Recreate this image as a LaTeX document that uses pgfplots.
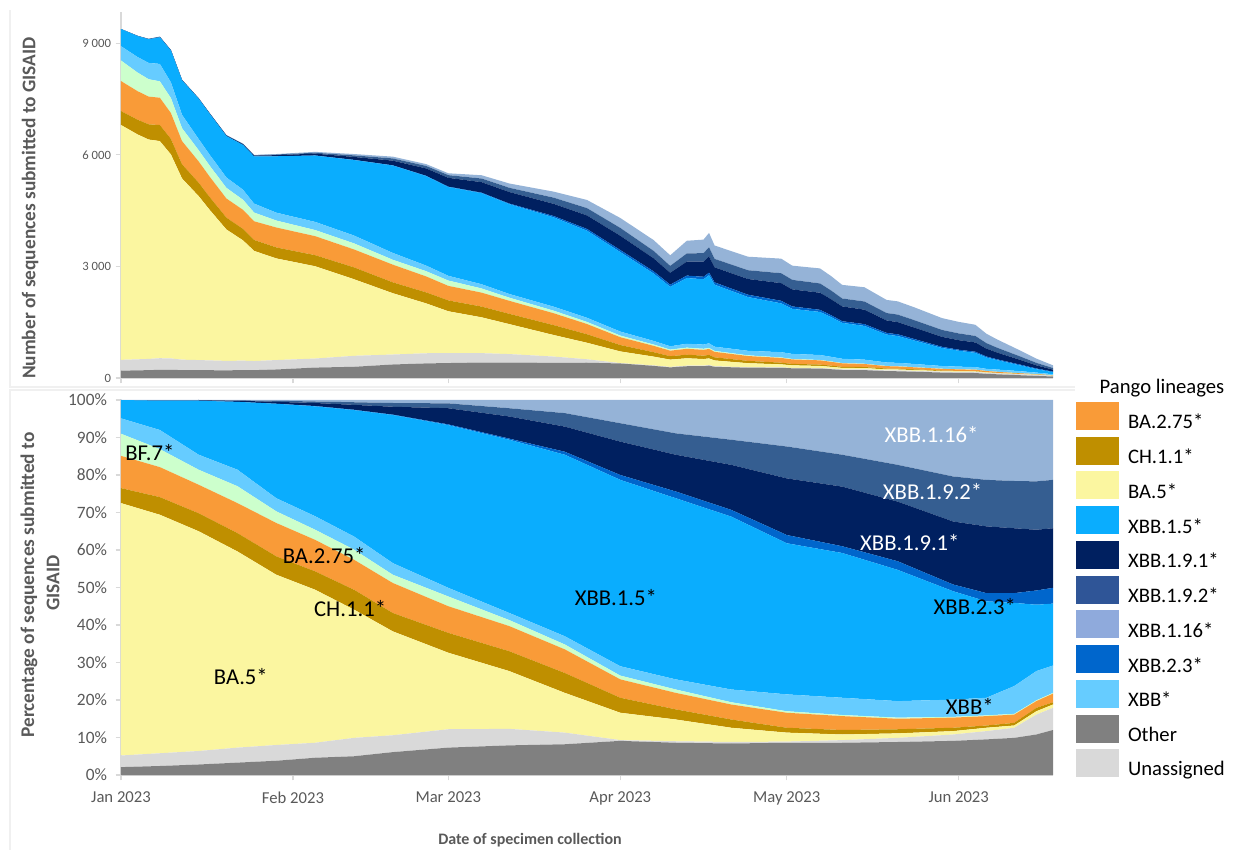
\documentclass[border=0pt]{standalone}
\usepackage{fontspec}
\setmainfont{Carlito}
\usepackage{pgfplots}
\usepackage{pgfplotstable}
\pgfplotsset{compat=1.18}

\definecolor{cOther}{HTML}{808080}
\definecolor{cUnas}{HTML}{D9D9D9}
\definecolor{cBAfive}{HTML}{FBF6A0}
\definecolor{cCH}{HTML}{BF8F00}
\definecolor{cBAtwo}{HTML}{F99B38}
\definecolor{cBF}{HTML}{CCFFCC}
\definecolor{cXBB}{HTML}{66CCFF}
\definecolor{cXfive}{HTML}{0AADFE}
\definecolor{cXtwothree}{HTML}{0066CC}
\definecolor{cXnineone}{HTML}{002060}
\definecolor{cXninetwo}{HTML}{355E91}
\definecolor{cXsixteen}{HTML}{95B3D7}
\definecolor{cLegNineTwo}{HTML}{2F5597}
\definecolor{cLegSixteen}{HTML}{8FAADC}
\definecolor{cAxis}{HTML}{D9D9D9}
\definecolor{cTick}{HTML}{595959}
\definecolor{cFrame}{HTML}{F0F0F0}

% day of 2023 (0 = 1 Jan); widths of each lineage in per cent
\pgfplotstableread{
d O U B5 CH B275 BF X X15 X23 X191 X192 X116
0 2.1 3.1 67.3 4.0 8.6 5.9 4.1 4.9 0 0 0 0
7 2.4 3.4 63.6 4.7 8.0 4.8 5.1 7.8 0 0.1 0.05 0.05
14 2.8 3.6 58.6 4.8 7.6 4.0 4.0 14.4 0 0.1 0.1 0
21 3.3 4.0 52.3 4.9 8.0 4.5 4.4 18.1 0 0.3 0.1 0.1
28 3.8 4.2 45.4 4.9 8.9 3.1 3.5 25.2 0 0.5 0.3 0.2
35 4.6 4.0 40.8 4.9 8.4 2.7 3.6 29.3 0.1 0.8 0.4 0.4
42 5.0 4.9 34.2 5.3 8.0 2.7 3.5 33.7 0.1 1.3 0.7 0.6
49 6.1 4.5 27.7 4.9 8.0 2.2 3.1 39.5 0.1 2.1 1.0 0.8
59 7.3 4.9 20.4 5.3 7.1 2.6 2.3 43.4 0.2 4.3 1.3 0.9
70 7.9 4.4 15.4 5.3 6.7 1.6 1.9 46.2 0.3 5.9 2.2 2.2
80 8.2 3.1 10.6 5.3 6.3 1.3 2.2 48.4 0.8 6.7 3.6 3.5
90 9.1 0.2 7.3 4.0 4.9 1.0 2.5 49.7 1.3 8.9 4.9 6.2
100 8.6 0.4 5.8 2.7 4.4 0.9 2.7 48.3 1.8 9.8 5.7 8.9
110 8.4 0.4 3.8 2.2 4.0 0.6 3.4 46.1 1.8 12.0 6.7 10.6
120 8.6 0.3 2.4 1.3 4.0 0.4 4.5 40.3 2.2 15.1 8.5 12.4
130 8.6 0.7 1.5 1.2 3.7 0.3 4.6 38.6 1.8 15.9 8.5 14.6
140 8.8 1.1 1.2 1.1 2.8 0.3 4.4 35.0 2.3 15.9 9.8 17.3
150 9.1 1.7 0.9 0.9 2.7 0.2 4.6 28.9 1.8 16.8 12.0 20.4
156 9.5 2.2 0.9 0.6 2.5 0.2 4.7 25.7 2.2 17.8 12.4 21.3
161 9.9 2.7 0.6 0.7 2.2 0.2 7.4 22.2 2.6 17.3 12.6 21.6
165 10.8 5.3 0.9 0.9 1.8 0.2 7.8 17.7 3.8 16.2 12.9 21.7
168 12.0 5.9 0.9 0.6 2.3 0.2 7.3 16.5 4.2 15.9 12.9 21.3
}\pct

% number of sequences per lineage
\pgfplotstableread{
d O U B5 CH B275 BF X X15 X23 X191 X192 X116
0 197 291 6313 375 807 553 385 460 0 0 0 0
3 205 297 6045 396 767 500 417 565 0 4 2 2
5 211 302 5897 410 745 466 439 636 0 6 4 4
7 220 312 5838 431 734 441 468 716 0 9 5 5
9 221 305 5483 417 696 403 422 855 0 9 5 4
11 211 282 4871 382 623 348 358 928 0 8 6 2
14 211 271 4407 361 572 301 301 1083 0 8 8 0
16 209 264 4044 344 549 295 293 1101 0 11 7 2
19 206 254 3533 318 515 285 280 1113 0 16 7 5
22 212 254 3233 309 512 271 269 1204 0 21 8 7
24 211 245 2960 294 503 234 241 1268 0 23 11 8
28 229 253 2733 295 536 187 211 1517 0 30 18 12
35 280 243 2481 298 511 164 219 1781 6 49 24 24
42 301 295 2059 319 482 163 211 2029 6 78 42 36
49 363 268 1648 292 476 131 184 2350 6 125 60 48
55 392 273 1341 296 429 140 151 2406 9 197 68 49
59 402 270 1122 292 391 143 127 2387 11 237 72 50
65 416 252 963 289 375 112 113 2449 14 282 98 88
70 413 230 805 277 350 84 99 2416 16 309 115 115
78 408 168 579 266 320 68 107 2403 35 328 166 162
84 410 93 444 229 275 56 111 2341 48 363 197 219
90 391 9 314 172 211 43 108 2137 56 383 211 267
96 326 12 237 119 171 35 97 1813 59 350 200 290
99 285 13 196 93 147 30 88 1599 58 320 185 285
102 316 15 199 96 159 31 105 1766 66 378 218 341
105 316 15 179 91 156 28 113 1756 67 405 231 363
106 331 16 179 94 162 28 122 1832 70 434 246 387
107 301 14 157 84 147 25 114 1665 64 404 228 359
113 276 12 110 63 130 18 122 1446 63 422 236 363
119 275 10 82 45 128 13 141 1312 69 475 267 392
121 260 10 70 39 120 12 136 1212 65 458 257 381
126 253 16 55 37 113 10 134 1157 58 459 250 404
128 236 17 46 33 103 9 125 1067 52 431 233 388
130 215 18 38 30 93 8 115 965 45 398 213 365
134 212 21 34 28 81 7 110 907 49 388 220 383
138 184 21 26 24 63 6 93 750 46 334 200 352
140 181 23 25 23 58 6 91 721 47 328 202 356
143 169 24 21 20 53 5 85 630 41 307 199 346
148 146 25 15 15 44 4 73 485 31 268 186 318
151 138 27 14 13 40 3 70 428 28 256 182 310
154 134 29 13 10 37 3 67 383 30 250 175 300
156 113 26 11 7 30 2 56 306 26 212 148 253
158 99 25 8 7 25 2 60 250 24 181 129 221
162 75 25 5 6 16 1 56 157 22 127 94 161
165 56 28 5 5 9 1 41 92 20 84 67 113
168 41 20 3 2 8 1 25 56 14 54 44 72
}\cnt

\pgfplotsset{
  panel/.style={
    scale only axis, width=699pt,
    xmin=0, xmax=168, ymin=0,
    stack plots=y,
    axis x line*=bottom, axis y line*=left,
    axis line style={draw=cAxis, line width=0.8pt, -},
    xtick={0,31,59,90,120,151},
    tick style={draw=cAxis, line width=0.8pt},
    major tick length=4pt, tick align=outside,
    ticklabel style={text=cTick},
  },
  band/.style={fill=#1, draw=none},
  swatch/.style={fill=#1, draw=none},
}
\tikzset{lab/.style={font=\fontsize{17}{20}\selectfont}}

\begin{document}
\begin{tikzpicture}
\path[use as bounding box] (-90.75pt,-56.25pt) rectangle (836.25pt,581.25pt);
\draw[cFrame, line width=0.8pt] (-83.25pt,-56.25pt) -- (-83.25pt,288.75pt) -- (715.5pt,288.75pt);
\draw[cFrame, line width=0.8pt] (-83.25pt,573.75pt) -- (-83.25pt,291pt) -- (715.5pt,291pt);

% ---------- counts ----------
\begin{axis}[panel,
  at={(0pt,297.75pt)},
  height=274.5pt, ymax=9840,
  ytick={0,3000,6000,9000},
  yticklabels={0,3 000,6 000,9 000},
  yticklabel style={font=\fontsize{9.5}{11}\selectfont},
  xticklabels={},
]
\addplot[band=cOther] table[x=d,y=O]{\cnt} \closedcycle;
\addplot[band=cUnas] table[x=d,y=U]{\cnt} \closedcycle;
\addplot[band=cBAfive] table[x=d,y=B5]{\cnt} \closedcycle;
\addplot[band=cCH] table[x=d,y=CH]{\cnt} \closedcycle;
\addplot[band=cBAtwo] table[x=d,y=B275]{\cnt} \closedcycle;
\addplot[band=cBF] table[x=d,y=BF]{\cnt} \closedcycle;
\addplot[band=cXBB] table[x=d,y=X]{\cnt} \closedcycle;
\addplot[band=cXfive] table[x=d,y=X15]{\cnt} \closedcycle;
\addplot[band=cXtwothree] table[x=d,y=X23]{\cnt} \closedcycle;
\addplot[band=cXnineone] table[x=d,y=X191]{\cnt} \closedcycle;
\addplot[band=cXninetwo] table[x=d,y=X192]{\cnt} \closedcycle;
\addplot[band=cXsixteen] table[x=d,y=X116]{\cnt} \closedcycle;
\end{axis}

% ---------- shares ----------
\begin{axis}[panel,
  at={(0pt,0pt)},
  height=281.25pt, ymax=100,
  ytick={0,10,...,100},
  yticklabels={0\%,10\%,20\%,30\%,40\%,50\%,60\%,70\%,80\%,90\%,100\%},
  yticklabel style={font=\fontsize{13}{15}\selectfont, xshift=-3pt},
  xticklabels={Jan 2023,Feb 2023,Mar 2023,Apr 2023,May 2023,Jun 2023},
  xticklabel style={font=\fontsize{12.5}{14}\selectfont, yshift=-5pt},
]
\addplot[band=cOther] table[x=d,y=O]{\pct} \closedcycle;
\addplot[band=cUnas] table[x=d,y=U]{\pct} \closedcycle;
\addplot[band=cBAfive] table[x=d,y=B5]{\pct} \closedcycle;
\addplot[band=cCH] table[x=d,y=CH]{\pct} \closedcycle;
\addplot[band=cBAtwo] table[x=d,y=B275]{\pct} \closedcycle;
\addplot[band=cBF] table[x=d,y=BF]{\pct} \closedcycle;
\addplot[band=cXBB] table[x=d,y=X]{\pct} \closedcycle;
\addplot[band=cXfive] table[x=d,y=X15]{\pct} \closedcycle;
\addplot[band=cXtwothree] table[x=d,y=X23]{\pct} \closedcycle;
\addplot[band=cXnineone] table[x=d,y=X191]{\pct} \closedcycle;
\addplot[band=cXninetwo] table[x=d,y=X192]{\pct} \closedcycle;
\addplot[band=cXsixteen] table[x=d,y=X116]{\pct} \closedcycle;
\end{axis}

% ---------- labels and legend (same frame as the shares) ----------
\begin{axis}[
  at={(0pt,0pt)}, scale only axis, width=699pt, height=281.25pt,
  xmin=0, xmax=168, ymin=0, ymax=100, hide axis,
  legend style={at={(1.0247,0.995)}, anchor=north west, draw=none, fill=none,
    inner sep=0pt, outer sep=0pt, row sep=2.3pt,
    font=\fontsize{15.5}{18}\selectfont, cells={anchor=west},
    /tikz/every odd column/.append style={column sep=5pt}},
  legend image code/.code={\path[#1] (0pt,-5.5pt) rectangle (32pt,15.5pt);},
]
\addlegendimage{swatch=cBAtwo}\addlegendentry{BA.2.75*}
\addlegendimage{swatch=cCH}\addlegendentry{CH.1.1*}
\addlegendimage{swatch=cBAfive}\addlegendentry{BA.5*}
\addlegendimage{swatch=cXfive}\addlegendentry{XBB.1.5*}
\addlegendimage{swatch=cXnineone}\addlegendentry{XBB.1.9.1*}
\addlegendimage{swatch=cLegNineTwo}\addlegendentry{XBB.1.9.2*}
\addlegendimage{swatch=cLegSixteen}\addlegendentry{XBB.1.16*}
\addlegendimage{swatch=cXtwothree}\addlegendentry{XBB.2.3*}
\addlegendimage{swatch=cXBB}\addlegendentry{XBB*}
\addlegendimage{swatch=cOther}\addlegendentry{Other}
\addlegendimage{swatch=cUnas}\addlegendentry{Unassigned}

\node[lab] at (axis cs:5.2,86.1) {BF.7*};
\node[lab] at (axis cs:36.6,58.4) {BA.2.75*};
\node[lab] at (axis cs:41.3,44.3) {CH.1.1*};
\node[lab] at (axis cs:21.6,26.3) {BA.5*};
\node[lab] at (axis cs:89.2,47.2) {XBB.1.5*};
\node[lab, text=white] at (axis cs:146.1,90.7) {XBB.1.16*};
\node[lab, text=white] at (axis cs:146.3,75.5) {XBB.1.9.2*};
\node[lab, text=white] at (axis cs:142.2,61.9) {XBB.1.9.1*};
\node[lab] at (axis cs:153.9,44.8) {XBB.2.3*};
\node[lab] at (axis cs:153,18.4) {XBB*};
\end{axis}

\node[rotate=90, font=\fontsize{14.5}{17}\selectfont\bfseries, text=cTick]
  at (-68.25pt,425.25pt) {Number of sequences submitted to GISAID};
\node[rotate=90, font=\fontsize{14.5}{17}\selectfont\bfseries, text=cTick]
  at (-69pt,142.5pt) {Percentage of sequences submitted to};
\node[rotate=90, font=\fontsize{14.5}{17}\selectfont\bfseries, text=cTick]
  at (-51pt,144pt) {GISAID};
\node[font=\fontsize{12}{14}\selectfont\bfseries, text=cTick]
  at (306.75pt,-48.75pt) {Date of specimen collection};
\node[font=\fontsize{15.5}{18}\selectfont] at (780.75pt,290.25pt) {Pango lineages};
\end{tikzpicture}
\end{document}
